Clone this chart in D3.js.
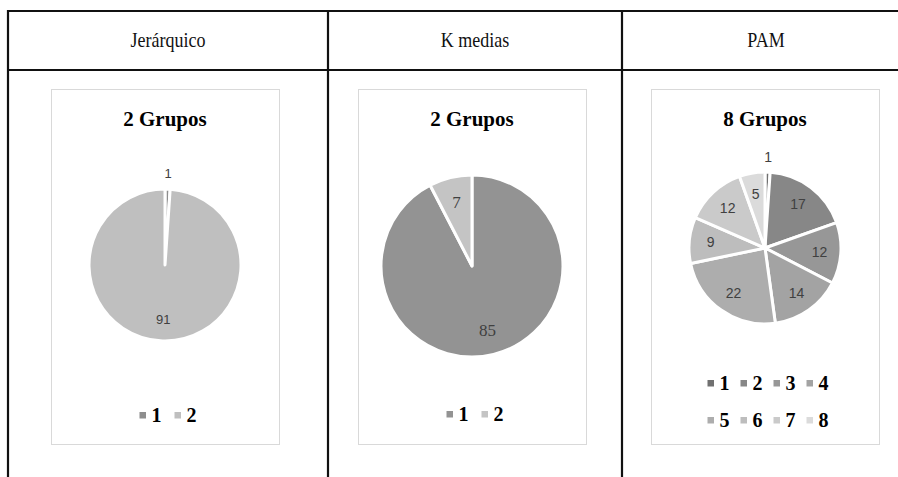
<!DOCTYPE html>
<html><head><meta charset="utf-8">
<script src="https://cdn.jsdelivr.net/npm/d3@7"></script>
<style>body{margin:0;background:#fff}svg{display:block}</style>
</head><body><svg id="c" width="898" height="477"></svg>
<script>
// ---- data ----
const methods = ["Jerárquico", "K medias", "PAM"];
const titles = ["2 Grupos", "2 Grupos", "8 Grupos"];
const jerGroups = ["1", "2"];
const jerValues = [1, 91];
const kmGroups = ["1", "2"];
const kmValues = [85, 7];
const pamGroups = ["1", "2", "3", "4", "5", "6", "7", "8"];
const pamValues = [1, 17, 12, 14, 22, 9, 12, 5];

// ---- styles / layout ----
const twoColors = ["#8e8e8e", "#bfbfbf"];
const kmColors = ["#939393", "#c4c4c4"];
const pamColors = ["#707070", "#878787", "#979797", "#a3a3a3", "#adadad", "#bdbdbd", "#cacaca", "#dbdbdb"];
const colEdges = [8, 328, 622, 910];

const svg = d3.select("#c");

// table
const tbl = svg.append("g").attr("stroke", "#111").attr("stroke-width", 2.2);
tbl.append("line").attr("x1", 7).attr("x2", 898).attr("y1", 11).attr("y2", 11);
tbl.append("line").attr("x1", 7).attr("x2", 898).attr("y1", 70).attr("y2", 70);
colEdges.slice(0, 3).forEach(x => tbl.append("line").attr("x1", x).attr("x2", x).attr("y1", 10).attr("y2", 477));

methods.forEach((m, i) => {
  svg.append("text").attr("x", (colEdges[i] + colEdges[i + 1]) / 2)
    .attr("y", 47).attr("text-anchor", "middle")
    .attr("font-family", "Liberation Serif").attr("font-size", 20).attr("fill", "#111")
    .attr("transform", `translate(${(colEdges[i] + colEdges[i + 1]) / 2},0) scale(0.9,1) translate(${-(colEdges[i] + colEdges[i + 1]) / 2},0)`)
    .text(m);
});

const charts = [
  { groups: jerGroups, values: jerValues, colors: twoColors, bx: 51, cx: 165, cy: 265, r: 76, labelFont: "Liberation Sans", labelSize: 13, legendRows: [[0, 1]], legendY: [415] },
  { groups: kmGroups, values: kmValues, colors: kmColors, bx: 358, cx: 472, cy: 266, r: 91, labelFont: "Liberation Serif", labelSize: 17, legendRows: [[0, 1]], legendY: [414] },
  { groups: pamGroups, values: pamValues, colors: pamColors, bx: 651, cx: 765, cy: 248, r: 76, labelFont: "Liberation Sans", labelSize: 14, legendRows: [[0, 1, 2, 3], [4, 5, 6, 7]], legendY: [383, 420] }
];

charts.forEach((c, i) => {
  const g = svg.append("g");
  g.append("rect").attr("x", c.bx + 0.5).attr("y", 89.5).attr("width", 228).attr("height", 355)
    .attr("fill", "#fff").attr("stroke", "#d9d9d9").attr("stroke-width", 1);
  g.append("text").attr("x", c.bx + 114).attr("y", 126).attr("text-anchor", "middle")
    .attr("font-family", "Liberation Serif").attr("font-weight", "bold").attr("font-size", 21)
    .attr("fill", "#000").text(titles[i]);

  const total = d3.sum(c.values);
  const pie = d3.pie().sort(null).value(d => d)(c.values);
  const arc = d3.arc().innerRadius(0).outerRadius(c.r);
  const pg = g.append("g").attr("transform", `translate(${c.cx},${c.cy})`);
  pg.selectAll("path").data(pie).join("path")
    .attr("d", arc).attr("fill", (d, j) => c.colors[j])
    .attr("stroke", "#fff").attr("stroke-width", 3).attr("stroke-linejoin", "round");

  pg.selectAll("text").data(pie).join("text")
    .attr("transform", d => {
      const frac = d.value / total;
      const rr = frac < 0.03 ? c.r * 1.2 : c.r * 0.72;
      const a = (d.startAngle + d.endAngle) / 2;
      return `translate(${Math.sin(a) * rr},${-Math.cos(a) * rr})`;
    })
    .attr("text-anchor", "middle").attr("dy", "0.35em")
    .attr("font-family", c.labelFont).attr("font-size", c.labelSize).attr("fill", "#404040")
    .text(d => d.value);

  // legend
  const pitch = c.groups.length > 2 ? 33 : 35;
  c.legendRows.forEach((row, ri) => {
    const w = (row.length - 1) * pitch + 24;
    const x0 = c.cx + 4 - w / 2;
    row.forEach((k, kk) => {
      const x = x0 + kk * pitch;
      g.append("rect").attr("x", x).attr("y", c.legendY[ri] - 3).attr("width", 6.5).attr("height", 6.5).attr("fill", c.colors[k]);
      g.append("text").attr("x", x + 12).attr("y", c.legendY[ri] + 7)
        .attr("font-family", "Liberation Serif").attr("font-weight", "bold").attr("font-size", 20)
        .attr("fill", "#000").text(c.groups[k]);
    });
  });
});
</script></body></html>
